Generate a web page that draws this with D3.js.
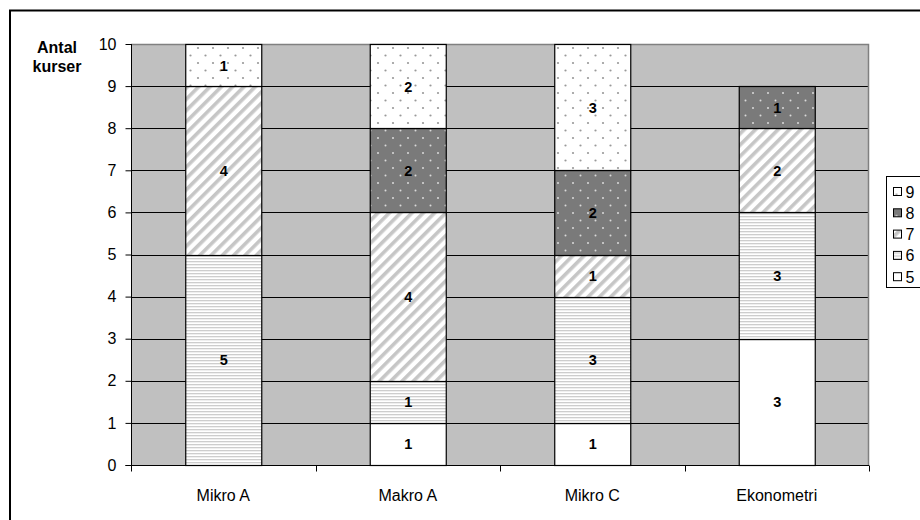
<!DOCTYPE html>
<html>
<head>
<meta charset="utf-8">
<script src="https://cdn.jsdelivr.net/npm/d3@7"></script>
<style>
  html, body { margin: 0; padding: 0; background: #fff; }
  svg { display: block; font-family: Arial, "Liberation Sans", sans-serif; }
</style>
</head>
<body>
<svg id="chart" width="920" height="520"></svg>
<script>
// Courses and number of courses per grade (5..9)
const categories = ["Mikro A", "Makro A", "Mikro C", "Ekonometri"];
const grades = ["5", "6", "7", "8", "9"];
const grade5 = [0, 1, 1, 3];
const grade6 = [5, 1, 3, 3];
const grade7 = [4, 4, 1, 2];
const grade8 = [0, 2, 2, 1];
const grade9 = [1, 2, 3, 0];
const yTicks = [0, 1, 2, 3, 4, 5, 6, 7, 8, 9, 10];
const yTitle = ["Antal", "kurser"];
const legendOrder = ["9", "8", "7", "6", "5"];

const FONT = "Arial, 'Liberation Sans', sans-serif";

const seriesValues = { "5": grade5, "6": grade6, "7": grade7, "8": grade8, "9": grade9 };
const rows = categories.map((c, i) => {
  const r = { cat: c };
  grades.forEach(g => r[g] = seriesValues[g][i]);
  return r;
});

const svg = d3.select("#chart");
const defs = svg.append("defs");

// Fill patterns for each grade
// 6: fine horizontal lines
const p6 = defs.append("pattern").attr("id", "pat6").attr("patternUnits", "userSpaceOnUse")
  .attr("width", 8).attr("height", 3);
p6.append("rect").attr("width", 8).attr("height", 3).attr("fill", "#ffffff");
p6.append("rect").attr("y", 0).attr("width", 8).attr("height", 1.3).attr("fill", "#cdcdcd");

// 7: wide diagonal stripes
const p7 = defs.append("pattern").attr("id", "pat7").attr("patternUnits", "userSpaceOnUse")
  .attr("width", 8).attr("height", 8).attr("patternTransform", "rotate(45)");
p7.append("rect").attr("width", 8).attr("height", 8).attr("fill", "#ffffff");
p7.append("rect").attr("width", 3.6).attr("height", 8).attr("fill", "#c6c6c6");

// 8: dark grey with light dots
const p8 = defs.append("pattern").attr("id", "pat8").attr("patternUnits", "userSpaceOnUse")
  .attr("width", 15).attr("height", 15);
p8.append("rect").attr("width", 15).attr("height", 15).attr("fill", "#7a7a7a");
p8.append("circle").attr("cx", 3).attr("cy", 3).attr("r", 1).attr("fill", "#dadada");
p8.append("circle").attr("cx", 10.5).attr("cy", 10.5).attr("r", 1).attr("fill", "#dadada");

// 9: white with sparse grey dots
const p9 = defs.append("pattern").attr("id", "pat9").attr("patternUnits", "userSpaceOnUse")
  .attr("width", 15).attr("height", 15);
p9.append("rect").attr("width", 15).attr("height", 15).attr("fill", "#ffffff");
p9.append("circle").attr("cx", 3).attr("cy", 3).attr("r", 1.1).attr("fill", "#999999");
p9.append("circle").attr("cx", 10.5).attr("cy", 10.5).attr("r", 1.1).attr("fill", "#999999");

const fills = { "5": "#ffffff", "6": "url(#pat6)", "7": "url(#pat7)", "8": "url(#pat8)", "9": "url(#pat9)" };

// Outer chart frame
svg.append("rect").attr("x", 10).attr("y", 10.5).attr("width", 1000).attr("height", 600)
  .attr("fill", "none").attr("stroke", "#000").attr("stroke-width", 2);

const plot = { left: 131, right: 869, top: 44, bottom: 465 };

const x = d3.scaleBand().domain(categories)
  .range([plot.left, plot.right]).paddingInner(0.588).paddingOuter(0.294);
const y = d3.scaleLinear().domain([0, 10]).range([plot.bottom, plot.top]);

// Plot background
svg.append("rect").attr("x", plot.left).attr("y", plot.top)
  .attr("width", plot.right - plot.left).attr("height", plot.bottom - plot.top)
  .attr("fill", "#c0c0c0");

// Gridlines
svg.append("g").selectAll("line").data(yTicks.filter(t => t > 0 && t < 10)).join("line")
  .attr("x1", plot.left).attr("x2", plot.right)
  .attr("y1", d => Math.round(y(d)) + 0.5).attr("y2", d => Math.round(y(d)) + 0.5)
  .attr("stroke", "#000").attr("stroke-width", 1);

// Plot border (top and right)
svg.append("path")
  .attr("d", `M${plot.left},${plot.top + 0.5}H${plot.right - 0.5}V${plot.bottom}`)
  .attr("fill", "none").attr("stroke", "#808080").attr("stroke-width", 1.5);

// Stacked bars
const stack = d3.stack().keys(grades);
const series = stack(rows);

const layers = svg.append("g").selectAll("g").data(series).join("g")
  .attr("fill", d => fills[d.key]);

layers.selectAll("rect").data(d => d.filter(s => s[1] - s[0] > 0)).join("rect")
  .attr("x", d => x(d.data.cat) + 0.5)
  .attr("y", d => Math.round(y(d[1])) + 0.5)
  .attr("width", x.bandwidth())
  .attr("height", d => Math.round(y(d[0])) - Math.round(y(d[1])))
  .attr("stroke", "#000").attr("stroke-width", 1.2);

// Segment value labels
const labels = svg.append("g").attr("font-size", 14.5).attr("font-weight", "bold")
  .attr("font-family", FONT).attr("text-anchor", "middle").attr("fill", "#000");
series.forEach(s => {
  s.filter(d => d[1] - d[0] > 0).forEach(d => {
    labels.append("text")
      .attr("x", x(d.data.cat) + x.bandwidth() / 2 + 0.5)
      .attr("y", y((d[0] + d[1]) / 2) + 5.5)
      .text(d[1] - d[0]);
  });
});

// Y axis
const yAxis = svg.append("g").attr("transform", `translate(${plot.left + 0.5},0)`)
  .call(d3.axisLeft(y).tickValues(yTicks).tickSize(6).tickPadding(9).tickFormat(d3.format("d")));
yAxis.select(".domain").attr("stroke", "#000").attr("d", `M-6,${plot.bottom + 0.5}H0V${plot.top}`);
yAxis.selectAll(".tick line").attr("stroke", "#000");
yAxis.selectAll(".tick text").attr("font-size", 16).attr("fill", "#000")
  .attr("font-family", FONT);

// X axis
const xAxis = svg.append("g").attr("transform", `translate(0,${plot.bottom + 0.5})`)
  .call(d3.axisBottom(x).tickSize(0).tickPadding(24));
xAxis.select(".domain").attr("stroke", "#000").attr("d", `M${plot.left},0H${plot.right}`);
xAxis.selectAll(".tick text").attr("font-size", 16).attr("fill", "#000")
  .attr("font-family", FONT);
// Category separators below the axis
const step = x.step();
xAxis.append("g").selectAll("line").data(d3.range(categories.length + 1)).join("line")
  .attr("x1", i => Math.round(plot.left + i * step) + 0.5)
  .attr("x2", i => Math.round(plot.left + i * step) + 0.5)
  .attr("y1", 0).attr("y2", 6).attr("stroke", "#000");

// Y axis title
svg.append("text").attr("x", 57).attr("y", 53).attr("text-anchor", "middle")
  .attr("font-size", 16).attr("font-weight", "bold").attr("font-family", FONT)
  .selectAll("tspan").data(yTitle).join("tspan")
  .attr("x", 57).attr("dy", (d, i) => i === 0 ? 0 : 19).text(d => d);

// Legend
const legend = svg.append("g").attr("transform", "translate(886.5,176.5)");
legend.append("rect").attr("width", 80).attr("height", 111)
  .attr("fill", "#fff").attr("stroke", "#000").attr("stroke-width", 1);
const li = legend.selectAll("g").data(legendOrder).join("g")
  .attr("transform", (d, i) => `translate(7,${15 + i * 21.3})`);
li.append("rect").attr("x", 0).attr("y", -4).attr("width", 8).attr("height", 8)
  .attr("fill", d => fills[d]).attr("stroke", "#000").attr("stroke-width", 1);
li.append("text").attr("x", 12).attr("y", 6).attr("font-size", 16)
  .attr("font-family", FONT).text(d => d);
</script>
</body>
</html>
